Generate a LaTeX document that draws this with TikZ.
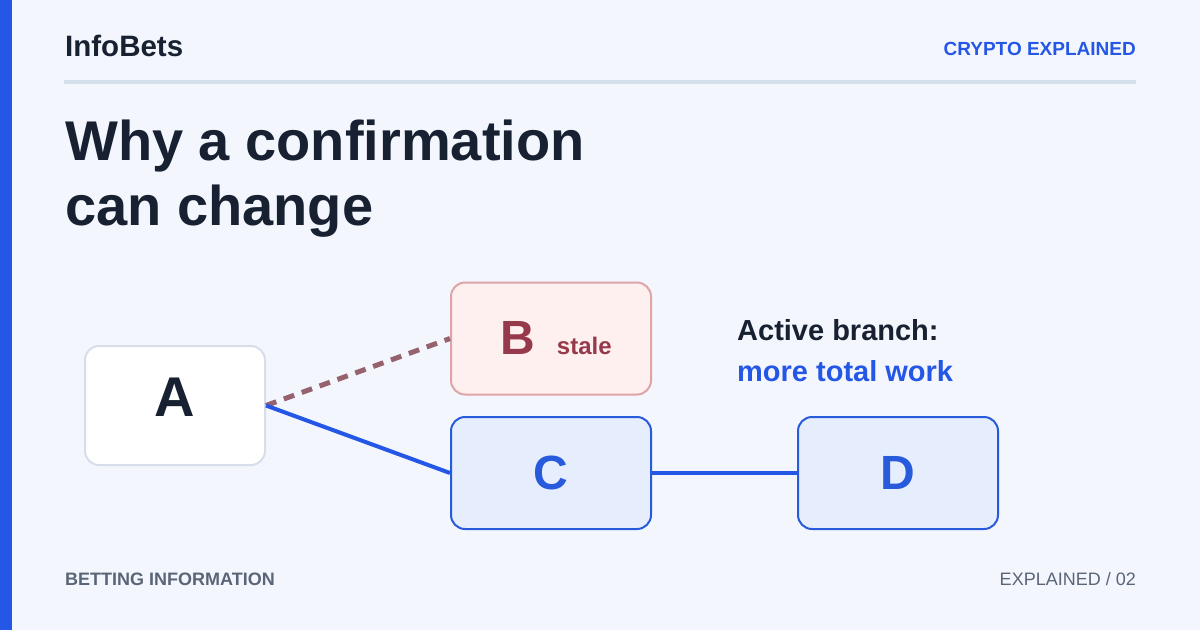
\documentclass[tikz,border=0pt]{standalone}
\usepackage{fontspec}
\setmainfont{Liberation Sans}
\usepackage{xcolor}
\usepackage{tikz}
\usetikzlibrary{positioning}
\definecolor{pagebg}{RGB}{244, 246, 253}
\definecolor{brandblue}{RGB}{37, 87, 230}
\definecolor{ink}{RGB}{23, 33, 49}
\definecolor{mutedgray}{RGB}{90, 101, 119}
\definecolor{rulegray}{RGB}{214, 223, 236}
\definecolor{rootborder}{RGB}{213, 222, 234}
\definecolor{stalefill}{RGB}{255, 240, 240}
\definecolor{staleborder}{RGB}{222, 165, 168}
\definecolor{staleink}{RGB}{150, 58, 75}
\definecolor{staleline}{RGB}{150, 98, 110}
\definecolor{chainblue}{RGB}{40, 90, 220}
\definecolor{chainfill}{RGB}{230, 237, 253}

\begin{document}
\begin{tikzpicture}[x=1pt, y=-1pt,
  block/.style={draw, rounded corners=14pt, line width=2pt, minimum width=200pt, minimum height=112pt, inner sep=0pt, font=\bfseries\fontsize{48}{48}\selectfont},
  rootblock/.style={block, draw=rootborder, fill=white, text=ink, minimum width=180pt, minimum height=119pt, font=\bfseries\fontsize{56}{56}\selectfont, text depth=16pt},
  staleblock/.style={block, draw=staleborder, fill=stalefill, text=staleink},
  chainblock/.style={block, draw=chainblue, fill=chainfill, text=chainblue},
  headtext/.style={anchor=base west, inner sep=0pt, font=\bfseries\fontsize{29}{34}\selectfont, text=ink},
  tagtext/.style={anchor=base east, inner sep=0pt, font=\bfseries\fontsize{19}{22}\selectfont, text=brandblue},
  titletext/.style={anchor=base west, inner sep=0pt, font=\bfseries\fontsize{56}{63}\selectfont, text=ink},
  foottext/.style={inner sep=0pt, font=\fontsize{18}{22}\selectfont, text=mutedgray},
  link/.style={line width=4pt, brandblue},
  stalelink/.style={line width=5pt, staleline, dash pattern=on 11pt off 8pt}
]

% Page
\fill[pagebg] (0,0) rectangle (1200,630);
\useasboundingbox (0,0) rectangle (1200,630);
\fill[brandblue] (0,0) rectangle (12,630);

% Header
\node[headtext, font=\bfseries\fontsize{29.5}{34}\selectfont] (brand) at (65,56) {InfoBets};
\node[tagtext] (tag) at (1136,55) {CRYPTO EXPLAINED};
\draw[rulegray, line width=4pt] (64,82) -- (1136,82);

% Title
\node[titletext] (title1) at (65,160) {Why a confirmation};
\node[titletext] (title2) at (65,225) {can change};

% Blocks
\node[rootblock] (blockA) at (175,405.5) {A};
\node[staleblock] (blockB) at (551,338.5) {\hspace{10pt}B\hspace{22pt}{\fontsize{24}{24}\selectfont stale}};
\node[chainblock] (blockC) at (551,473) {C};
\node[chainblock] (blockD) at (898,473) {D};

\draw[stalelink] (blockA.east) -- (blockB.west);
\draw[link] (blockA.east) -- (blockC.west);
\draw[link] (blockC.east) -- (blockD.west);

% Note
\node[headtext] (note1) at (737,340) {Active branch:};
\node[headtext, text=brandblue] (note2) at (737,381) {more total work};

% Footer
\node[foottext, anchor=base west, font=\bfseries\fontsize{18}{22}\selectfont] (footL) at (65,585) {BETTING INFORMATION};
\node[foottext, anchor=base east] (footR) at (1136,585) {EXPLAINED / 02};

\end{tikzpicture}
\end{document}
